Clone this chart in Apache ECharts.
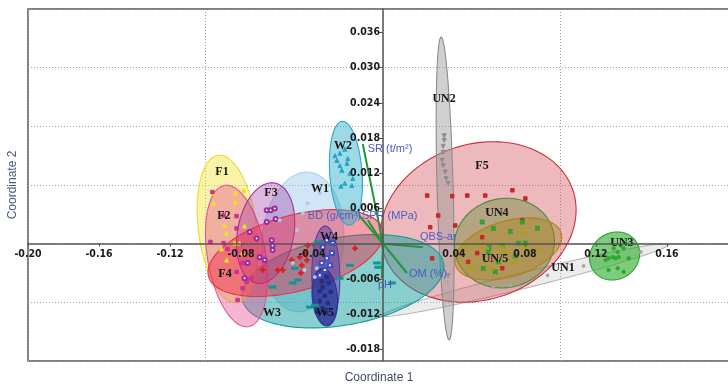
<!DOCTYPE html>
<html>
<head>
<meta charset="utf-8">
<script src="https://cdn.jsdelivr.net/npm/echarts@6/dist/echarts.min.js"></script>
<style>
html,body{margin:0;padding:0;background:#fff;}
#chart{width:728px;height:384px;}
</style>
</head>
<body>
<div id="chart"></div>
<script>
// Ordination biplot: group samples, confidence ellipses and soil-property vectors

// tick labels
const xTickValues = [-0.2, -0.16, -0.12, -0.08, -0.04, 0.04, 0.08, 0.12, 0.16];
const yTickValues = [-0.018, -0.012, -0.006, 0.006, 0.012, 0.018, 0.024, 0.030, 0.036];

// groups
const groupNames = ['F1', 'F2', 'F3', 'F4', 'W1', 'W2', 'W3', 'W4', 'W5', 'F5', 'UN2', 'UN4', 'UN/5', 'UN1', 'UN3'];

// ellipse centres, half-spreads along each coordinate and correlation
const ellipseCx = [-0.0876, -0.0825, -0.0661, -0.0492, -0.0452, -0.0209, -0.0226, -0.0322, -0.0328, 0.0537, 0.0350, 0.0684, 0.0706, 0.0802, 0.1305];
const ellipseCy = [0.0025, -0.0021, 0.0018, -0.0016, 0.0003, 0.0120, -0.0064, -0.0055, -0.0091, 0.0037, 0.0094, 0.0001, -0.0009, -0.0062, -0.0021];
const ellipseSx = [0.0171, 0.0175, 0.0164, 0.0494, 0.0232, 0.0093, 0.0569, 0.0079, 0.0072, 0.0551, 0.00505, 0.0282, 0.0301, 0.0806, 0.0141];
const ellipseSy = [0.01258, 0.01207, 0.00858, 0.0074, 0.0119, 0.00884, 0.00796, 0.0085, 0.0049, 0.01368, 0.0258, 0.00765, 0.0053, 0.00619, 0.0041];
const ellipseR = [-0.26, -0.32, 0.21, 0.44, 0.10, -0.20, 0.31, -0.05, -0.16, 0.15, -0.445, 0.05, 0.38, 0.974, 0.10];

// group label anchors
const groupLabelX = [-0.0907, -0.0896, -0.0631, -0.0890, -0.0355, -0.0225, -0.0625, -0.0304, -0.0327, 0.0558, 0.0344, 0.0642, 0.0631, 0.1014, 0.1346];
const groupLabelY = [0.0122, 0.0048, 0.0086, -0.0052, 0.0093, 0.0167, -0.0118, 0.0011, -0.0118, 0.0133, 0.0246, 0.0052, -0.0026, -0.0042, 0.0001];

// sample scores per group
const pointsF1 = [[-0.0955,0.0086],[-0.0831,0.0086],[-0.0955,0.0069],[-0.0831,0.0071],[-0.0893,0.0031],[-0.0881,0.0018],[-0.0808,0.0001],[-0.0910,-0.0009],[-0.0881,-0.0028],[-0.0791,-0.0016],[-0.0780,0.0030],[-0.0785,0.0091],[-0.0836,0.0001]];
const pointsF2 = [[-0.0961,0.0088],[-0.0972,0.0003],[-0.0898,0.0048],[-0.0825,0.0047],[-0.0825,0.0026],[-0.0876,-0.0009],[-0.0791,-0.0033],[-0.0825,-0.0048],[-0.0768,-0.0065],[-0.0791,-0.0076],[-0.0819,-0.0096],[-0.0740,-0.0059],[-0.0898,0.0001]];
const pointsF3 = [[-0.0655,0.0057],[-0.0633,0.0057],[-0.0610,0.0060],[-0.0605,0.0042],[-0.0655,0.0037],[-0.0627,0.0006],[-0.0622,-0.0003],[-0.0622,-0.0011],[-0.0751,0.0020],[-0.0712,0.0009],[-0.0695,-0.0023],[-0.0667,-0.0028],[-0.0763,-0.0033],[-0.0780,-0.0059]];
const pointsF4 = [[-0.0469,-0.0023],[-0.0458,-0.0037],[-0.0463,-0.0050],[-0.0678,-0.0045],[-0.0565,-0.0045],[-0.0514,-0.0028],[-0.0429,-0.0028],[-0.0441,-0.0016],[-0.0158,-0.0008],[-0.0424,-0.0003],[-0.0593,-0.0045]];
const pointsW1 = [[-0.0424,0.0069],[-0.0452,0.0052],[-0.0356,0.0086],[-0.0486,0.0023],[-0.0373,-0.0042],[-0.0441,-0.0045],[-0.0384,-0.0057],[-0.0509,-0.0033],[-0.0582,0.0040]];
const pointsW2 = [[-0.0271,0.0150],[-0.0243,0.0154],[-0.0215,0.0161],[-0.0260,0.0142],[-0.0198,0.0145],[-0.0243,0.0133],[-0.0203,0.0137],[-0.0232,0.0125],[-0.0186,0.0120],[-0.0170,0.0111],[-0.0215,0.0103],[-0.0237,0.0098],[-0.0175,0.0099]];
const pointsW3 = [[-0.0367,0.0003],[-0.0186,-0.0037],[-0.0034,-0.0033],[-0.0480,-0.0062],[-0.0622,-0.0074],[-0.0509,-0.0067],[-0.0384,-0.0105],[-0.0412,-0.0108],[0.0051,-0.0067],[-0.0028,-0.0040],[-0.0243,-0.0059],[-0.0497,-0.0042]];
const pointsW4 = [[-0.0316,0.0006],[-0.0339,-0.0006],[-0.0288,-0.0016],[-0.0316,-0.0025],[-0.0345,-0.0033],[-0.0299,-0.0037],[-0.0328,-0.0045],[-0.0356,-0.0054],[-0.0283,0.0001]];
const pointsW5 = [[-0.0316,-0.0057],[-0.0345,-0.0064],[-0.0305,-0.0067],[-0.0339,-0.0074],[-0.0356,-0.0081],[-0.0294,-0.0082],[-0.0328,-0.0089],[-0.0356,-0.0098],[-0.0311,-0.0101],[-0.0339,-0.0110],[-0.0373,-0.0116],[-0.0322,-0.0118]];
const pointsF5 = [[0.0249,0.0082],[0.0390,0.0081],[0.0475,0.0082],[0.0266,0.0028],[0.0311,0.0048],[0.0531,-0.0016],[0.0559,0.0011],[0.0277,-0.0025],[0.0729,0.0091],[0.0802,0.0077],[0.0576,0.0082],[0.0407,0.0031],[0.0480,-0.0031],[0.0672,-0.0042],[0.0785,0.0040]];
const pointsUN2 = [[0.0345,0.0184],[0.0345,0.0176],[0.0339,0.0166],[0.0339,0.0156],[0.0333,0.0142],[0.0339,0.0133],[0.0350,0.0122],[0.0356,0.0111],[0.0367,0.0103],[0.0367,-0.0054]];
const pointsUN4 = [[0.0559,0.0037],[0.0622,0.0026],[0.0718,0.0021],[0.0785,0.0037],[0.0870,0.0026],[0.0763,0.0001],[0.0802,0.0001],[0.0599,-0.0006],[0.0672,-0.0003],[0.0593,-0.0014],[0.0746,-0.0021],[0.0565,-0.0042],[0.0633,-0.0048],[0.0650,-0.0031]];
const pointsUN5 = [[0.0531,-0.0003],[0.0576,-0.0008],[0.0661,-0.0006],[0.0689,-0.0014],[0.0785,0.0018],[0.0734,-0.0031],[0.0605,-0.0042],[0.0802,-0.0008],[0.0870,-0.0011],[0.0452,-0.0006],[0.0492,-0.0042]];
const pointsUN1 = [[0.0362,-0.0065],[0.0622,-0.0074],[0.0718,-0.0071],[0.0927,-0.0054],[0.1130,-0.0038],[0.1452,-0.0014]];
const pointsUN3 = [[0.1300,-0.0008],[0.1322,-0.0014],[0.1356,-0.0008],[0.1339,-0.0003],[0.1254,-0.0028],[0.1271,-0.0025],[0.1294,-0.0023],[0.1311,-0.0025],[0.1328,-0.0023],[0.1384,-0.0025],[0.1271,-0.0045],[0.1322,-0.0042],[0.1356,-0.0048]];

// soil-property vectors
const vectorNames = ['SR (t/m\u00b2)', 'BD (g/cm\u00b3)', 'SPR (MPa)', 'QBS-ar', 'OM (%)', 'pH'];
const vectorX = [-0.0114, -0.0135, -0.0085, 0.0225, 0.0135, -0.0006];
const vectorY = [0.0170, 0.0048, 0.0040, -0.0006, -0.0050, -0.0059];

// ---------- layout & styling ----------
const xMin = -0.2, xMax = 0.1955, yMin = -0.02, yMax = 0.04;
const gridLeft = 28, gridTop = 9, gridW = 702, gridH = 352;
// shift the labelled axes from the frame edges onto the zero lines
const yZeroShift = -gridW * (0 - xMin) / (xMax - xMin);
const xZeroShift = -gridH * (0 - yMin) / (yMax - yMin);

const ellipseFill = {
  'F1': 'rgba(240,228,60,0.45)', 'F2': 'rgba(232,80,150,0.42)', 'F3': 'rgba(160,50,160,0.35)',
  'F4': 'rgba(236,40,70,0.45)', 'W1': 'rgba(150,200,235,0.45)', 'W2': 'rgba(40,170,200,0.45)',
  'W3': 'rgba(20,160,160,0.50)', 'W4': 'rgba(90,60,170,0.50)', 'W5': 'rgba(40,50,150,0.70)',
  'F5': 'rgba(210,70,80,0.38)', 'UN2': 'rgba(150,150,150,0.45)', 'UN4': 'rgba(110,140,60,0.45)',
  'UN/5': 'rgba(170,130,30,0.45)', 'UN1': 'rgba(200,200,200,0.35)', 'UN3': 'rgba(40,170,40,0.60)'
};
const ellipseStroke = {
  'F1': '#e8dc30', 'F2': '#e0559a', 'F3': '#a0309a', 'F4': '#e8304a', 'W1': '#a8d4f0',
  'W2': '#28a8cc', 'W3': '#169c9c', 'W4': '#5a3caa', 'W5': '#2a3590', 'F5': '#c83040',
  'UN2': '#8c8c8c', 'UN4': '#3d8f3d', 'UN/5': '#b08020', 'UN1': '#b8b8b8', 'UN3': '#2ea02e'
};
const ellipseOrder = ['UN1', 'F5', 'UN2', 'W1', 'W3', 'F1', 'F2', 'F3', 'F4', 'W2', 'W4', 'W5', 'UN4', 'UN/5', 'UN3'];

const plusPath = 'path://M3,0h2v3h3v2h-3v3h-2v-3h-3v-2h3z';
const pointSets = [
  { data: pointsF1, symbol: 'triangle', size: 4, color: '#efe020' },
  { data: pointsF2, symbol: 'rect', size: 3.5, color: '#d0309a' },
  { data: pointsF3, symbol: 'emptyCircle', size: 4, color: '#9a2aa0' },
  { data: pointsF4, symbol: plusPath, size: 5, color: '#e02020' },
  { data: pointsW1, symbol: 'circle', size: 3, color: '#a8cdee' },
  { data: pointsW2, symbol: 'triangle', size: 4, color: '#1ea8c8' },
  { data: pointsW3, symbol: 'rect', size: [5, 2], color: '#119494' },
  { data: pointsW4, symbol: 'emptyRect', size: 4, color: '#3f4fc0' },
  { data: pointsW5, symbol: 'rect', size: 3.5, color: '#26307e' },
  { data: pointsF5, symbol: 'rect', size: 3.5, color: '#c82828' },
  { data: pointsUN2, symbol: 'triangle', size: 4, color: '#8e8e8e', rotate: 180 },
  { data: pointsUN4, symbol: plusPath, size: 5, color: '#2f9e2f', rotate: 45 },
  { data: pointsUN5, symbol: 'rect', size: [5, 2], color: '#a6a020' },
  { data: pointsUN1, symbol: 'circle', size: 3, color: '#a8a8a8' },
  { data: pointsUN3, symbol: 'circle', size: 3.5, color: '#2eaa2e' }
];

// label placement relative to each vector tip (px)
const vectorLabelStyle = [
  { align: 'left', dx: 5, dy: 5 },
  { align: 'right', dx: 2, dy: 0 },
  { align: 'left', dx: -6, dy: -4 },
  { align: 'left', dx: -3, dy: -10 },
  { align: 'left', dx: 2, dy: 1 },
  { align: 'left', dx: -4, dy: 7 }
];

const chart = echarts.init(document.getElementById('chart'), null, { renderer: 'canvas' });

const ellipseData = ellipseOrder.map(function (name) {
  const i = groupNames.indexOf(name);
  return [ellipseCx[i], ellipseCy[i], ellipseSx[i], ellipseSy[i], ellipseR[i], i];
});

function renderEllipse(params, api) {
  const cx = api.value(0), cy = api.value(1), sx = api.value(2), sy = api.value(3), r = api.value(4);
  const name = groupNames[api.value(5)];
  const k = Math.sqrt(1 - r * r);
  const pts = [];
  const n = 120;
  for (let s = 0; s < n; s++) {
    const t = s / n * Math.PI * 2;
    const c = Math.cos(t), sn = Math.sin(t);
    pts.push(api.coord([cx + sx * c, cy + sy * (r * c + k * sn)]));
  }
  return {
    type: 'polygon',
    shape: { points: pts },
    style: { fill: ellipseFill[name], stroke: ellipseStroke[name], lineWidth: 1.1 }
  };
}

function renderVector(params, api) {
  const i = params.dataIndex;
  const p0 = api.coord([0, 0]);
  const p1 = api.coord([api.value(0), api.value(1)]);
  const st = vectorLabelStyle[i];
  return {
    type: 'group',
    children: [
      { type: 'line', shape: { x1: p0[0], y1: p0[1], x2: p1[0], y2: p1[1] },
        style: { stroke: '#1c9a3a', lineWidth: 2 } },
      { type: 'text', x: p1[0] + st.dx, y: p1[1] + st.dy,
        style: { text: vectorNames[i], fill: '#4a5cc4', font: '11px "Liberation Sans", Arial, sans-serif',
                 align: st.align, verticalAlign: 'middle' } }
    ]
  };
}

function renderGroupLabel(params, api) {
  const p = api.coord([api.value(0), api.value(1)]);
  return {
    type: 'text', x: p[0], y: p[1],
    style: { text: groupNames[params.dataIndex], fill: '#141414',
             font: 'bold 12px "Liberation Serif", "Times New Roman", serif',
             align: 'center', verticalAlign: 'middle' }
  };
}

const tickFont = '"Liberation Sans Narrow", "DejaVu Sans Condensed", "Liberation Sans", Arial, sans-serif';

const series = [
  { type: 'custom', name: 'ellipses', renderItem: renderEllipse, data: ellipseData,
    encode: { x: 0, y: 1 }, z: 2, silent: true }
];
pointSets.forEach(function (ps, idx) {
  series.push({
    type: 'scatter', name: groupNames[idx], data: ps.data, symbol: ps.symbol,
    symbolSize: ps.size, symbolRotate: ps.rotate || 0,
    itemStyle: { color: ps.color, borderColor: ps.color, borderWidth: 1, opacity: 1 },
    z: 4, silent: true, animation: false
  });
});
series.push({
  type: 'custom', name: 'vectors', renderItem: renderVector,
  data: vectorX.map(function (x, i) { return [x, vectorY[i]]; }),
  encode: { x: 0, y: 1 }, z: 5, silent: true
});
series.push({
  type: 'custom', name: 'groupLabels', renderItem: renderGroupLabel,
  data: groupLabelX.map(function (x, i) { return [x, groupLabelY[i]]; }),
  encode: { x: 0, y: 1 }, z: 6, silent: true
});

const option = {
  animation: false,
  backgroundColor: '#fff',
  grid: { show: true, left: gridLeft, top: gridTop, width: gridW, height: gridH,
          containLabel: false, outerBoundsMode: 'none',
          borderColor: '#555', borderWidth: 1.5, backgroundColor: '#fff' },
  xAxis: [
    { type: 'value', min: xMin, max: xMax, interval: 0.1, position: 'bottom',
      axisLine: { show: false, onZero: false }, axisTick: { show: false }, axisLabel: { show: false },
      splitLine: { show: true, lineStyle: { color: '#a0a0a0', type: [1, 2], width: 1 } },
      name: 'Coordinate 1', nameLocation: 'middle', nameGap: 11,
      nameTextStyle: { color: '#3e4c62', fontSize: 12, fontFamily: '"Liberation Sans", Arial, sans-serif' } },
    { type: 'value', min: xMin, max: xMax, position: 'bottom', offset: xZeroShift, z: 10,
      axisLine: { show: true, onZero: false, lineStyle: { color: '#555', width: 1.5 } },
      axisTick: { show: true, length: 3, customValues: xTickValues, lineStyle: { color: '#555' } },
      axisLabel: { show: true, customValues: xTickValues, margin: 5, color: '#1a1a1a', fontWeight: 'bold',
                   fontSize: 10.5, fontFamily: tickFont,
                   formatter: function (v) { return v.toFixed(2); } },
      splitLine: { show: false } }
  ],
  yAxis: [
    { type: 'value', min: yMin, max: yMax, interval: 0.01, position: 'left',
      axisLine: { show: false, onZero: false }, axisTick: { show: false }, axisLabel: { show: false },
      splitLine: { show: true, lineStyle: { color: '#a0a0a0', type: [1, 2], width: 1 } },
      name: 'Coordinate 2', nameLocation: 'middle', nameGap: 9, nameRotate: 90,
      nameTextStyle: { color: '#4a5878', fontSize: 12, fontFamily: '"Liberation Sans", Arial, sans-serif' } },
    { type: 'value', min: yMin, max: yMax, position: 'left', offset: yZeroShift, z: 10,
      axisLine: { show: true, onZero: false, lineStyle: { color: '#555', width: 1.5 } },
      axisTick: { show: true, length: 4, customValues: yTickValues, lineStyle: { color: '#555' } },
      axisLabel: { show: true, customValues: yTickValues, margin: 3, color: '#1a1a1a', fontWeight: 'bold',
                   fontSize: 10.5, fontFamily: tickFont,
                   formatter: function (v) { return v.toFixed(3); } },
      splitLine: { show: false } }
  ],
  series: series
};

chart.setOption(option);
</script>
</body>
</html>
